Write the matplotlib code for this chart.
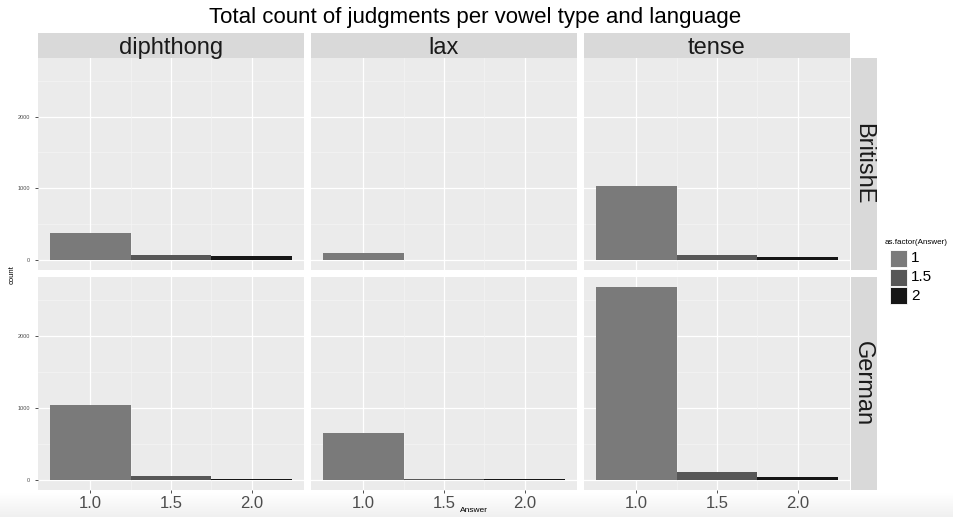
import numpy as np
import matplotlib
matplotlib.use("Agg")
import matplotlib.pyplot as plt
from matplotlib.patches import Rectangle

# data
answers = [1.0, 1.5, 2.0]
answer_labels = ["1", "1.5", "2"]
vowels = ["diphthong", "lax", "tense"]
languages = ["BritishE", "German"]

british_diphthong = [375, 75, 65]
british_lax = [100, 0, 0]
british_tense = [1035, 70, 50]
german_diphthong = [1040, 55, 25]
german_lax = [660, 20, 20]
german_tense = [2680, 110, 50]

counts = {
    ("BritishE", "diphthong"): british_diphthong,
    ("BritishE", "lax"): british_lax,
    ("BritishE", "tense"): british_tense,
    ("German", "diphthong"): german_diphthong,
    ("German", "lax"): german_lax,
    ("German", "tense"): german_tense,
}

fill_colors = ["#7a7a7a", "#575757", "#161616"]

W, H = 954, 517
plt.rcParams["font.family"] = ["Liberation Sans", "DejaVu Sans"]
fig = plt.figure(figsize=(W / 100, H / 100), dpi=100)


def box(x0, y0, x1, y1):
    """pixel box (top-left origin) -> figure rect"""
    return [x0 / W, 1 - y1 / H, (x1 - x0) / W, (y1 - y0) / H]


# faint screenshot shading at the bottom
bg = fig.add_axes(box(0, 492, W, H), zorder=-5)
grad = np.linspace(1.0, 0.94, 50).reshape(-1, 1)
bg.imshow(grad, cmap="gray", vmin=0, vmax=1, aspect="auto", extent=[0, 1, 0, 1])
bg.axis("off")

col_x = [(38, 304), (311, 577), (584, 850)]
row_y = [(58, 270), (277, 490)]

ymax = max(max(v) for v in counts.values())
ylim = (-0.05 * ymax, 1.05 * ymax)
xlim = (0.675, 2.325)

for r, lang in enumerate(languages):
    for c, vowel in enumerate(vowels):
        ax = fig.add_axes(box(col_x[c][0], row_y[r][0], col_x[c][1], row_y[r][1]))
        ax.set_facecolor("#ebebeb")
        for s in ax.spines.values():
            s.set_visible(False)
        ax.set_xlim(*xlim)
        ax.set_ylim(*ylim)
        for yv in [500, 1500, 2500]:
            ax.axhline(yv, color="#f5f5f5", lw=0.5, zorder=0)
        for yv in [0, 1000, 2000]:
            ax.axhline(yv, color="white", lw=0.9, zorder=0)
        for xv in [1.25, 1.75]:
            ax.axvline(xv, color="#f5f5f5", lw=0.5, zorder=0)
        for xv in answers:
            ax.axvline(xv, color="white", lw=0.9, zorder=0)
        vals = counts[(lang, vowel)]
        for a, v, col in zip(answers, vals, fill_colors):
            if v > 0:
                ax.bar(a, v, width=0.5, color=col, zorder=2)
        ax.set_yticks([0, 1000, 2000])
        ax.set_xticks(answers)
        ax.tick_params(color="#333333", length=2.5, width=0.6)
        if c == 0:
            ax.set_yticklabels(["0", "1000", "2000"], fontsize=4, color="#4d4d4d")
        else:
            ax.tick_params(axis="y", length=0, labelleft=False)
        if r == 1:
            ax.set_xticklabels(["1.0", "1.5", "2.0"], fontsize=12, color="#4d4d4d")
            ax.tick_params(axis="x", pad=1.5)
        else:
            ax.tick_params(axis="x", length=0, labelbottom=False)

# top strips
for c, vowel in enumerate(vowels):
    sax = fig.add_axes(box(col_x[c][0], 33, col_x[c][1], 58))
    sax.set_facecolor("#d9d9d9")
    sax.set_xticks([])
    sax.set_yticks([])
    for s in sax.spines.values():
        s.set_visible(False)
    sax.text(0.5, 0.42, vowel, ha="center", va="center", fontsize=17,
             color="#1a1a1a", transform=sax.transAxes)

# right strips
for r, lang in enumerate(languages):
    sax = fig.add_axes(box(851, row_y[r][0], 877, row_y[r][1]))
    sax.set_facecolor("#d9d9d9")
    sax.set_xticks([])
    sax.set_yticks([])
    for s in sax.spines.values():
        s.set_visible(False)
    sax.text(0.45, 0.5, lang, ha="center", va="center", rotation=-90,
             fontsize=17, color="#1a1a1a", transform=sax.transAxes)

# titles and axis labels
fig.text(475 / W, 1 - 18 / H, "Total count of judgments per vowel type and language",
         ha="center", va="center", fontsize=16, color="black")
fig.text(12 / W, 1 - 275 / H, "count", rotation=90, ha="center", va="center",
         fontsize=5.5, color="black")
fig.text(474 / W, 1 - 511 / H, "Answer", ha="center", va="center", fontsize=6,
         color="black")

# legend
fig.text(885 / W, 1 - 242 / H, "as.factor(Answer)", ha="left", va="center",
         fontsize=5.8, color="black")
for i, (lab, col) in enumerate(zip(answer_labels, fill_colors)):
    y0 = 250 + i * 18.5
    fig.patches.append(Rectangle((890 / W, 1 - (y0 + 17) / H), 17 / W, 17 / H,
                                 transform=fig.transFigure, facecolor=col,
                                 edgecolor="white", lw=0.6))
    fig.text(911 / W, 1 - (y0 + 8.5) / H, lab, ha="left", va="center",
             fontsize=11, color="black")

fig.savefig("out.png", dpi=100)
